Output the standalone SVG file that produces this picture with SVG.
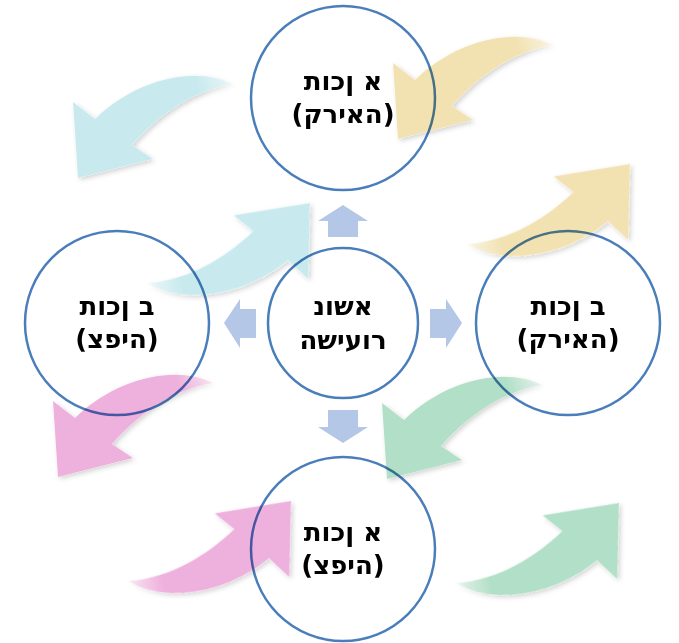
<svg xmlns="http://www.w3.org/2000/svg" width="679" height="643" viewBox="0 0 679 643">
<defs>
<style>
.ring{fill:none;stroke:#4A7EBB;stroke-width:2.5;mix-blend-mode:multiply}
.lbl{font-family:"DejaVu Sans","Liberation Sans",Arial,sans-serif;font-weight:bold;font-size:26px;fill:#000;text-anchor:middle}
.blk{fill:#B4C7E7}
</style>
<path id="curl" d="M155,-94 C120,-112 60,-101 17,-59 L-5,-76 L0,0 L75,-19 L54,-33 C78,-60 112,-87 155,-94 Z"/>
<linearGradient id="gY" gradientUnits="userSpaceOnUse" x1="155" y1="-94" x2="122" y2="-85"><stop offset="0" stop-color="#F2E2B2" stop-opacity="0.3"/><stop offset="1" stop-color="#F2E2B2"/></linearGradient>
<linearGradient id="gC" gradientUnits="userSpaceOnUse" x1="155" y1="-94" x2="122" y2="-85"><stop offset="0" stop-color="#C8EAEE" stop-opacity="0.3"/><stop offset="1" stop-color="#C8EAEE"/></linearGradient>
<linearGradient id="gP" gradientUnits="userSpaceOnUse" x1="155" y1="-94" x2="122" y2="-85"><stop offset="0" stop-color="#EEB0DC" stop-opacity="0.3"/><stop offset="1" stop-color="#EEB0DC"/></linearGradient>
<linearGradient id="gG" gradientUnits="userSpaceOnUse" x1="155" y1="-94" x2="122" y2="-85"><stop offset="0" stop-color="#B1DFC7" stop-opacity="0.3"/><stop offset="1" stop-color="#B1DFC7"/></linearGradient>
<filter id="sh" x="-20%" y="-20%" width="140%" height="140%">
<feGaussianBlur in="SourceAlpha" stdDeviation="2.5"/>
<feOffset dx="2" dy="2" result="b"/>
<feFlood flood-color="#000" flood-opacity="0.18"/>
<feComposite in2="b" operator="in" result="s"/>
<feComposite in="s" in2="SourceAlpha" operator="out" result="s2"/>
<feMerge><feMergeNode in="s2"/><feMergeNode in="SourceGraphic"/></feMerge>
</filter>
</defs>
<rect width="679" height="643" fill="#fff"/>
<g id="curved-arrows" filter="url(#sh)">
<use href="#curl" fill="url(#gC)" transform="translate(78,178)"/>
<use href="#curl" fill="url(#gY)" transform="translate(398,139)"/>
<use href="#curl" fill="url(#gP)" transform="translate(58,477)"/>
<use href="#curl" fill="url(#gG)" transform="translate(387,479)"/>
<use href="#curl" fill="url(#gC)" transform="translate(310,203) rotate(185)"/>
<use href="#curl" fill="url(#gY)" transform="translate(630,164) rotate(185)"/>
<use href="#curl" fill="url(#gP)" transform="translate(291,501) rotate(185)"/>
<use href="#curl" fill="url(#gG)" transform="translate(619,503) rotate(185)"/>
</g>
<g id="connectors">
<polygon class="blk" points="343,205 368,221 358,221 358,237 328,237 328,221 318,221"/>
<polygon class="blk" points="343,443 368,427 358,427 358,410 328,410 328,427 318,427"/>
<polygon class="blk" points="224,323 240,299 240,309 256,309 256,338 240,338 240,348"/>
<polygon class="blk" points="462,323 446,299 446,309 430,309 430,338 446,338 446,348"/>
</g>
<g id="node-center">
<circle class="ring" cx="343" cy="323" r="75"/>
<text class="lbl" x="343" y="315">אשונ</text>
<text class="lbl" x="343" y="349">רועישה</text>
</g>
<g id="node-top">
<circle class="ring" cx="343" cy="98" r="92"/>
<text class="lbl" x="343" y="90">א ןכות</text>
<text class="lbl" x="343" y="123">(האירק)</text>
</g>
<g id="node-left">
<circle class="ring" cx="117" cy="323" r="92"/>
<text class="lbl" x="117" y="315">ב ןכות</text>
<text class="lbl" x="117" y="348">(היפצ)</text>
</g>
<g id="node-right">
<circle class="ring" cx="568" cy="323" r="92"/>
<text class="lbl" x="568" y="315">ב ןכות</text>
<text class="lbl" x="568" y="348">(האירק)</text>
</g>
<g id="node-bottom">
<circle class="ring" cx="343" cy="549" r="92"/>
<text class="lbl" x="343" y="541">א ןכות</text>
<text class="lbl" x="343" y="574">(היפצ)</text>
</g>
</svg>
